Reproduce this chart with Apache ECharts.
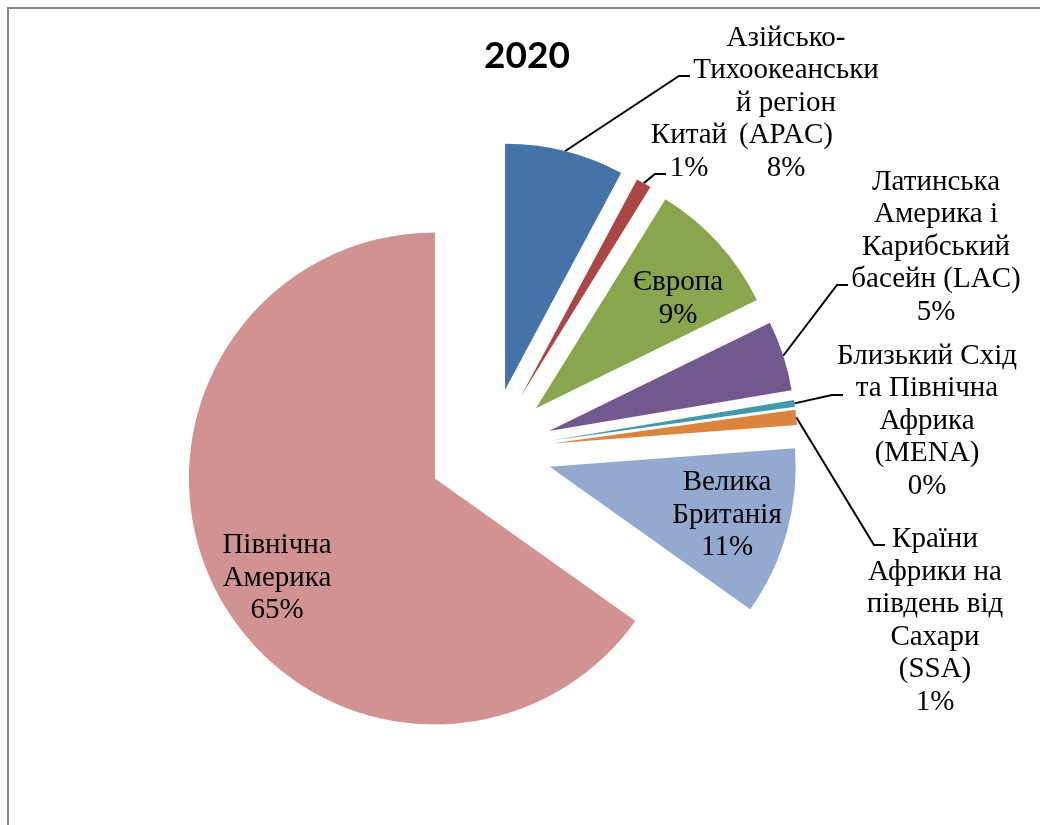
<!DOCTYPE html>
<html>
<head>
<meta charset="utf-8">
<script src="https://cdn.jsdelivr.net/npm/echarts@6/dist/echarts.min.js"></script>
<style>
  html, body { margin: 0; padding: 0; background: #ffffff; }
  #chart { width: 1040px; height: 825px; }
</style>
</head>
<body>
<div id="chart"></div>
<script>
// Regions, clockwise from 12 o'clock
const regions = [
  'Азійсько-Тихоокеанський регіон (APAC)',
  'Китай',
  'Європа',
  'Латинська Америка і Карибський басейн (LAC)',
  'Близький Схід та Північна Африка (MENA)',
  'Країни Африки на південь від Сахари (SSA)',
  'Велика Британія',
  'Північна Америка'
];

// Label text, wrapped the way the chart prints it
const labelTexts = [
  'Азійсько-\nТихоокеанськи\nй регіон\n(APAC)',
  'Китай',
  'Європа',
  'Латинська\nАмерика і\nКарибський\nбасейн (LAC)',
  'Близький Схід\nта Північна\nАфрика\n(MENA)',
  'Країни\nАфрики на\nпівдень від\nСахари\n(SSA)',
  'Велика\nБританія',
  'Північна\nАмерика'
];

// Share of each region, %
const shares = [7.8, 1.0, 8.9, 4.6, 0.45, 1.0, 11.0, 65.0];

const title = '2020';

// ---- styling and label placement ----
const colors = ['#4572A7', '#AA4643', '#89A54E', '#71588F', '#4198AF', '#DB843D', '#93A9CF', '#D19392'];
const insideLabel = [false, false, true, false, false, false, true, true];
// centre of each label block
const labelCenters = [[786, 103], [689, 152], [678, 299], [936, 247], [927, 421], [935, 621], [727, 515], [277, 578]];
// where each leader line meets its label (outside labels only)
const leaderEnds = [[690, 76], [666, 174], null, [848, 285], [843, 395], [885, 545], null, null];

const PIE_CENTER = [490, 450];
const PIE_RADIUS = 246;
const EXPLODE = 62;

const total = shares.reduce((a, b) => a + b, 0);
const pct = (v) => Math.round(v / total * 100) + '%';

const chart = echarts.init(document.getElementById('chart'), null, { renderer: 'canvas' });

// Visible, exploded slices
const sliceData = regions.map((name, i) => ({
  name: name,
  value: shares[i],
  selected: true,
  itemStyle: { color: colors[i] }
}));

// Label carrier: same angles, radius reaching the outer arc of the exploded slices,
// so its leader lines start at the middle of each slice's arc
const labelData = regions.map((name, i) => ({
  name: name,
  value: shares[i],
  label: { position: insideLabel[i] ? 'inside' : 'outside' },
  labelLine: { show: !insideLabel[i] }
}));

const labelFont = {
  fontFamily: 'Liberation Serif',
  fontSize: 29,
  lineHeight: 32.5,
  color: '#000000',
  align: 'center'
};

chart.setOption({
  animation: false,
  backgroundColor: '#ffffff',
  title: {
    text: title,
    left: 479,
    top: 33,
    textStyle: { fontFamily: 'Lato', fontWeight: 'bold', fontSize: 37, color: '#000000' }
  },
  graphic: [{
    type: 'polyline',
    shape: { points: [[8, 825], [8, 8], [1040, 8]] },
    style: { stroke: '#878787', lineWidth: 2, fill: null },
    silent: true
  }],
  series: [
    {
      type: 'pie',
      center: PIE_CENTER,
      radius: PIE_RADIUS,
      startAngle: 90,
      clockwise: true,
      selectedMode: 'multiple',
      selectedOffset: EXPLODE,
      emphasis: { disabled: true },
      silent: true,
      itemStyle: { borderWidth: 0 },
      label: { show: false },
      labelLine: { show: false },
      data: sliceData
    },
    {
      type: 'pie',
      center: PIE_CENTER,
      radius: PIE_RADIUS + EXPLODE,
      startAngle: 90,
      clockwise: true,
      silent: true,
      avoidLabelOverlap: false,
      emphasis: { disabled: true },
      itemStyle: { color: 'rgba(0,0,0,0)', borderWidth: 0 },
      label: Object.assign({
        formatter: (p) => labelTexts[p.dataIndex] + '\n' + pct(p.value)
      }, labelFont),
      labelLine: {
        length: 10,
        length2: 10,
        lineStyle: { color: '#000000', width: 2 }
      },
      labelLayout: (params) => {
        const i = params.dataIndex;
        const c = labelCenters[i];
        const out = { x: c[0], y: c[1], align: 'center', verticalAlign: 'middle' };
        const end = leaderEnds[i];
        if (end && params.labelLinePoints) {
          const start = params.labelLinePoints[0];
          out.labelLinePoints = [start, [end[0] - 11, end[1]], end];
        }
        return out;
      },
      data: labelData
    }
  ]
});
</script>
</body>
</html>
